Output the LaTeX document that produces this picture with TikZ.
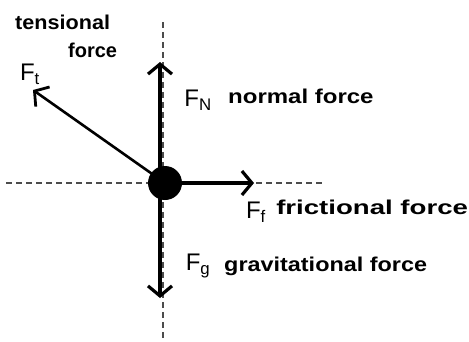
\documentclass[tikz,border=0pt]{standalone}
\usepackage{fontspec}
\setmainfont{Liberation Sans}
\usetikzlibrary{arrows.meta}
\begin{document}
\begin{tikzpicture}[x=1pt,y=-1pt,
  axis/.style={dashed, dash pattern=on 6pt off 4pt, line width=1.6pt, black!70},
  force/.style={line width=3.4pt, -{Straight Barb[length=10pt,width=24pt,line width=3.2pt]}},
  lbl/.style={font=\fontsize{20}{22}\selectfont\bfseries, anchor=west, inner sep=0pt, xscale=1.3, transform shape},
  sym/.style={font=\fontsize{24}{26}\selectfont, inner sep=0pt}]
\useasboundingbox (0,0) rectangle (469,341);
\coordinate (vtop) at (163,22);
\coordinate (vbot) at (163,341);
\coordinate (hl) at (6,183);
\coordinate (hr) at (322,183);
\draw[axis] (vtop) -- (vbot);
\draw[axis] (hl) -- (hr);
\node[circle, fill=black, minimum size=34pt, inner sep=0pt] (m) at (165,183) {};
\coordinate (tN) at (160,62);
\coordinate (tG) at (160,298);
\coordinate (tF) at (254,183);
\coordinate (tT) at (33,90);
\draw[force] (m.center) ++(-5,0) coordinate (c1) (c1) -- (tN);
\draw[force] (m.center) ++(-5,0) coordinate (c2) (c2) -- (tG);
\draw[force] (m.center) -- (tF);
\draw[force, line width=2.6pt, -{Straight Barb[length=10pt,width=24pt,line width=2.8pt]}] (m.center) -- (tT);
\node[lbl, xscale=1.08/1.3] (tl1) at (15,22) {tensional};
\node[lbl, xscale=1/1.3] (tl2) at (68,50) {force};
\node[sym] (ft) at (30,74) {F\textsubscript{t}};
\node[sym] (fn) at (198,100) {F\textsubscript{N}};
\node[lbl, xscale=1.2/1.3] (nl) at (228,96) {normal force};
\node[sym] (ff) at (256,212) {F\textsubscript{f}};
\node[lbl, xscale=1.38/1.3] (fl) at (276,207) {frictional force};
\node[sym] (fg) at (198,266) {F\textsubscript{g}};
\node[lbl, xscale=1.17/1.3] (gl) at (224,266) {gravitational force};
\end{tikzpicture}
\end{document}
